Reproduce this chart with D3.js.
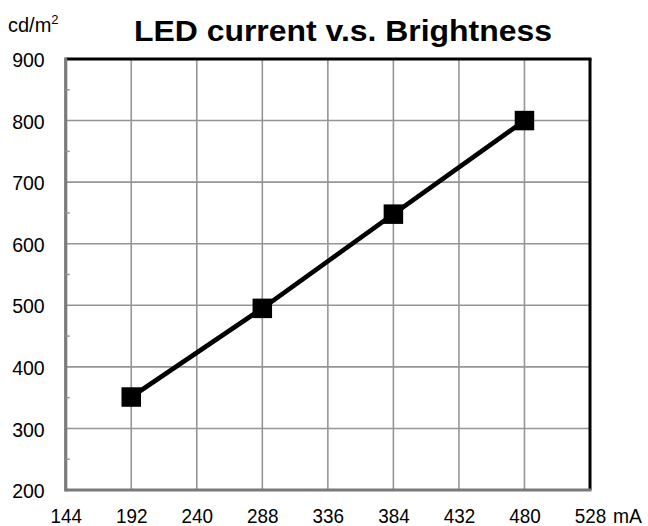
<!DOCTYPE html>
<html><head><meta charset="utf-8">
<script src="https://cdn.jsdelivr.net/npm/d3@7"></script>
<style>body{margin:0;background:#fff}svg{display:block;font-family:"Liberation Sans",Arial,sans-serif}</style>
</head><body><svg id="c" width="648" height="526"></svg>
<script>
const currents = [192, 288, 384, 480];
const brightness = [351, 495, 648, 800];
const xTicks = [144, 192, 240, 288, 336, 384, 432, 480, 528];
const yTicks = [200, 300, 400, 500, 600, 700, 800, 900];
const yMinor = [250, 350, 450, 550, 650, 750, 850];
const title = "LED current v.s. Brightness";

const svg = d3.select("#c");
const L = 65.7, R = 590, T = 59, B = 490;
const x = d3.scaleLinear().domain([144, 528]).range([L, R]);
const y = d3.scaleLinear().domain([200, 900]).range([B, T]);
const FF = "Liberation Sans, Arial, sans-serif";

// grid
svg.append("g").selectAll("line").data(xTicks.slice(1, -1)).join("line")
  .attr("x1", d => x(d)).attr("x2", d => x(d)).attr("y1", T).attr("y2", B)
  .attr("stroke", "#959595").attr("stroke-width", 1.6);
svg.append("g").selectAll("line").data(yTicks.slice(1, -1)).join("line")
  .attr("x1", L).attr("x2", R).attr("y1", d => y(d)).attr("y2", d => y(d))
  .attr("stroke", "#959595").attr("stroke-width", 1.6);

// border: top & right black, left & bottom grey
svg.append("line").attr("x1", L).attr("x2", R + 1.5).attr("y1", T).attr("y2", T).attr("stroke", "#000").attr("stroke-width", 3);
svg.append("line").attr("x1", R).attr("x2", R).attr("y1", T).attr("y2", B).attr("stroke", "#000").attr("stroke-width", 3);
svg.append("line").attr("x1", L).attr("x2", L).attr("y1", T - 1.5).attr("y2", B + 1.5).attr("stroke", "#7a7a7a").attr("stroke-width", 3.2);
svg.append("line").attr("x1", L).attr("x2", R + 1.5).attr("y1", B).attr("y2", B).attr("stroke", "#7a7a7a").attr("stroke-width", 3.2);

// minor ticks on left axis
svg.append("g").selectAll("line").data(yMinor).join("line")
  .attr("x1", L).attr("x2", L + 4).attr("y1", d => y(d)).attr("y2", d => y(d))
  .attr("stroke", "#959595").attr("stroke-width", 1.5);

// axes labels
const yAxis = svg.append("g").attr("transform", `translate(${L},0)`)
  .call(d3.axisLeft(y).tickValues(yTicks).tickSize(0).tickPadding(0).tickFormat(d3.format("d")));
yAxis.select(".domain").remove();
yAxis.selectAll("text").attr("x", 0).attr("dy", "0.36em")
  .attr("font-size", 21).attr("fill", "#000").attr("font-family", FF)
  .attr("transform", "translate(-21,0) scale(0.93,1)");

const xAxis = svg.append("g").attr("transform", `translate(0,${B})`)
  .call(d3.axisBottom(x).tickValues(xTicks).tickSize(0).tickPadding(0).tickFormat(d3.format("d")));
xAxis.select(".domain").remove();
xAxis.selectAll("text").attr("y", 0).attr("dy", 0)
  .attr("font-size", 21).attr("fill", "#000").attr("font-family", FF)
  .attr("transform", "translate(0,33) scale(0.9,1)");

svg.append("text").attr("x", 613).attr("y", B + 33).attr("font-size", 21)
  .attr("transform", "translate(613,0) scale(0.92,1) translate(-613,0)").text("mA");

// unit label
const u = svg.append("text").attr("x", 8).attr("y", 31.5).attr("font-size", 20).text("cd/m");
u.append("tspan").attr("font-size", 13).attr("dy", -8).text("2");

// title
svg.append("text").attr("x", 343).attr("y", 41).attr("text-anchor", "middle")
  .attr("font-size", 29).attr("font-weight", "bold")
  .attr("textLength", 418).attr("lengthAdjust", "spacingAndGlyphs").text(title);

// series
const pts = currents.map((c, i) => [c, brightness[i]]);
svg.append("path").datum(pts)
  .attr("d", d3.line().x(d => x(d[0])).y(d => y(d[1])))
  .attr("fill", "none").attr("stroke", "#000").attr("stroke-width", 4.6);
const s = 19.5;
svg.append("g").selectAll("rect").data(pts).join("rect")
  .attr("x", d => x(d[0]) - s / 2).attr("y", d => y(d[1]) - s / 2)
  .attr("width", s).attr("height", s).attr("fill", "#000");
</script></body></html>
